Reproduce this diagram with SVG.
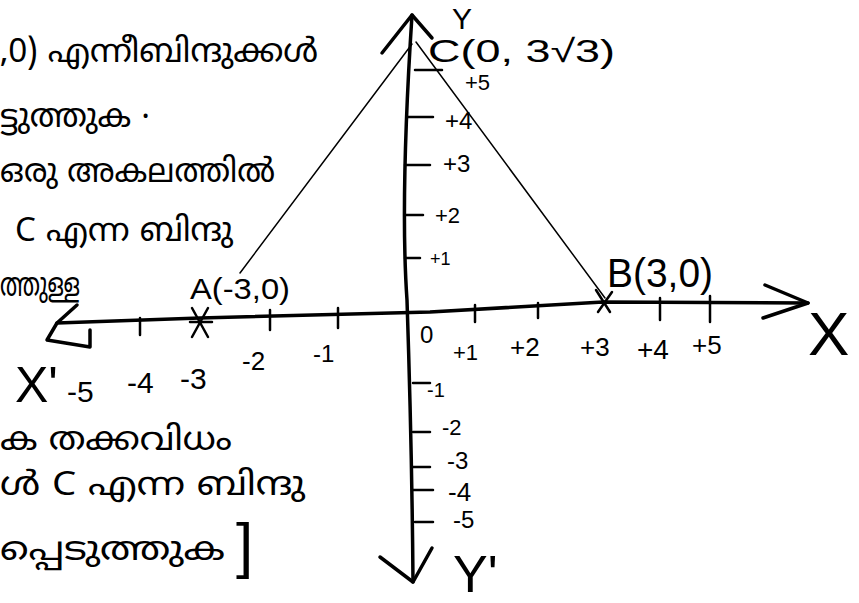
<svg xmlns="http://www.w3.org/2000/svg" width="859" height="603" viewBox="0 0 859 603">
<style>
.ax{fill:none;stroke:#000;stroke-width:3.5;stroke-linecap:round;stroke-linejoin:round}
.tk{fill:none;stroke:#000;stroke-width:2.5;stroke-linecap:round}
.tri{fill:none;stroke:#000;stroke-width:1.5;stroke-linecap:round}
.t{font-family:"Liberation Sans","DejaVu Sans",sans-serif;fill:#000}
.ml{font-family:"Noto Sans Malayalam","Noto Sans","DejaVu Sans",sans-serif;fill:#000;font-size:33px}
</style>
<rect width="859" height="603" fill="#fff"/>
<g id="notes">
<text class="ml" x="0" y="62" textLength="318" lengthAdjust="spacingAndGlyphs">,0) എന്നീബിന്ദുക്കൾ</text>
<text class="ml" x="0" y="127" textLength="150" lengthAdjust="spacingAndGlyphs">ട്ടുത്തുക ·</text>
<text class="ml" x="0" y="182" textLength="275" lengthAdjust="spacingAndGlyphs">ഒരു അകലത്തിൽ</text>
<text class="ml" x="15" y="241" textLength="218" lengthAdjust="spacingAndGlyphs">C എന്ന ബിന്ദു</text>
<text class="ml" x="0" y="296" font-size="28" textLength="80" lengthAdjust="spacingAndGlyphs">ത്തുള്ള</text>
<text class="ml" x="0" y="450" font-size="35" textLength="232" lengthAdjust="spacingAndGlyphs">ക തക്കവിധം</text>
<text class="ml" x="0" y="495" font-size="36" textLength="305" lengthAdjust="spacingAndGlyphs">ൾ C എന്ന ബിന്ദു</text>
<text class="ml" x="0" y="560" font-size="36" textLength="225" lengthAdjust="spacingAndGlyphs">പ്പെടുത്തുക</text>
<text class="t" x="236" y="566" font-size="62">]</text>
</g>
<g id="x-axis">
<path class="ax" d="M57,323 L200,318 L430,312 L603,302 L808,303"/>
<path class="ax" d="M765,285 L808,303 L763,318"/>
<path class="ax" d="M77,305 L57,323 L47,340 L90,347 L90,330"/>
<path class="tk" d="M140,318 V335 M270,310 V330 M338,308 V328 M475,305 V322 M538,303 V318 M660,298 V320 M710,296 V322"/>
<path class="tk" d="M192,308 L208,337 M208,308 L192,337 M190,322 H212"/>
<path class="tk" d="M596,290 L610,312 M612,292 L598,312"/>
<text class="t" x="15" y="402" font-size="50">X'</text>
<text class="t" x="67" y="402" font-size="30">-5</text>
<text class="t" x="127" y="393" font-size="30">-4</text>
<text class="t" x="180" y="389" font-size="30">-3</text>
<text class="t" x="242" y="370" font-size="26">-2</text>
<text class="t" x="313" y="362" font-size="24">-1</text>
<text class="t" x="420" y="343" font-size="24">0</text>
<text class="t" x="453" y="360" font-size="22">+1</text>
<text class="t" x="510" y="356" font-size="26">+2</text>
<text class="t" x="580" y="356" font-size="26">+3</text>
<text class="t" x="637" y="359" font-size="28">+4</text>
<text class="t" x="692" y="354" font-size="26">+5</text>
<text class="t" x="808" y="355" font-size="62">X</text>
</g>
<g id="y-axis">
<path class="ax" d="M412,15 Q400,200 407,300 Q412,450 413,582"/>
<path class="ax" d="M382,53 L412,15 L432,38"/>
<path class="ax" d="M380,557 L413,582 L432,548"/>
<path class="tk" d="M415,70 H442 M408,117 H433 M405,165 H430 M405,215 H423 M405,258 H420"/>
<path class="tk" d="M413,383 H430 M413,432 H430 M413,467 H430 M413,490 H433 M415,522 H433"/>
<text class="t" x="465" y="90" font-size="22">+5</text>
<text class="t" x="445" y="129" font-size="24">+4</text>
<text class="t" x="443" y="172" font-size="24">+3</text>
<text class="t" x="435" y="223" font-size="22">+2</text>
<text class="t" x="430" y="265" font-size="18">+1</text>
<text class="t" x="427" y="397" font-size="20">-1</text>
<text class="t" x="442" y="435" font-size="22">-2</text>
<text class="t" x="447" y="469" font-size="24">-3</text>
<text class="t" x="448" y="501" font-size="26">-4</text>
<text class="t" x="453" y="528" font-size="24">-5</text>
<text class="t" x="452" y="29" font-size="30">Y</text>
<text class="t" x="453" y="592" font-size="52">Y'</text>
</g>
<g id="triangle">
<path class="tri" d="M412,44 L240,273 M416,42 L605,298"/>
<text class="t" x="428" y="62" font-size="32" textLength="187" lengthAdjust="spacingAndGlyphs">C(0, 3√3)</text>
<text class="t" x="190" y="299" font-size="30" textLength="100" lengthAdjust="spacingAndGlyphs">A(-3,0)</text>
<text class="t" x="607" y="287" font-size="40" textLength="106" lengthAdjust="spacingAndGlyphs">B(3,0)</text>
</g>
</svg>
